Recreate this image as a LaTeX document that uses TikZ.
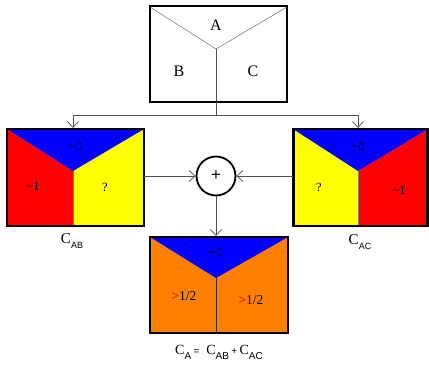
\documentclass[tikz,border=0pt]{standalone}
\usepackage{fontspec}
\setmainfont{Liberation Serif}
\setsansfont{Liberation Sans}
\usetikzlibrary{arrows.meta,calc}
\definecolor{cblue}{RGB}{0,0,255}
\definecolor{cred}{RGB}{255,0,0}
\definecolor{cyel}{RGB}{255,255,0}
\definecolor{corange}{RGB}{255,128,0}
\definecolor{cdred}{RGB}{190,0,0}
\definecolor{cline}{RGB}{80,80,80}
\tikzset{
  boxb/.style={draw=black,line width=2.8pt,inner sep=0pt},
  yline/.style={draw=gray,line width=0.6pt},
  conn/.style={draw=cline,line width=0.7pt},
  arr/.style={conn,-{Straight Barb[length=6pt,width=11pt,line width=0.7pt]}},
  lbl/.style={font=\fontsize{12.5}{13}\selectfont,inner sep=0pt},
  half/.style={font=\fontsize{13.5}{14}\selectfont,inner sep=0pt},
  big/.style={font=\fontsize{16}{17}\selectfont,inner sep=0pt},
}
\newcommand{\sub}[2][9]{\raisebox{-0.35em}{\sffamily\fontsize{#1}{10}\selectfont #2}}
\begin{document}
\begin{tikzpicture}[x=1pt,y=-1pt]
\useasboundingbox (0,0) rectangle (429,367);
% ---------- top box ----------
\coordinate (tY) at (216,49);
\draw[yline] (150,7) -- (tY) -- (287,7);
\draw[yline,draw=cline] (tY) -- (216,102);
\node[boxb,minimum width=137pt,minimum height=96pt] (top) at (218.5,54) {};
\node[big] (lA) at (216,25) {A};
\node[big] (lB) at (179,71) {B};
\node[big] (lC) at (253,71) {C};
% ---------- left box ----------
\coordinate (lY) at (73,171);
\fill[cred] (7,129) -- (lY) -- (73,226) -- (7,226) -- cycle;
\fill[cyel] (144,129) -- (lY) -- (73,226) -- (144,226) -- cycle;
\fill[cblue] (7,129) -- (lY) -- (144,129) -- cycle;
\draw[yline] (lY) -- (73,226);
\node[boxb,minimum width=137pt,minimum height=97pt] (left) at (75.5,177.5) {};
\node[lbl] (l0) at (76,146) {\char`\~0};
\node[lbl] (l1) at (33,186) {\char`\~1};
\node[lbl] (lq) at (105,187) {?};
\node[inner sep=0pt] (cab) at (72,241) {\fontsize{15}{16}\selectfont C\sub{AB}};
% ---------- right box ----------
\coordinate (rY) at (358,171);
\fill[cyel] (293,129) -- (rY) -- (358,226) -- (293,226) -- cycle;
\fill[cred] (428,129) -- (rY) -- (358,226) -- (428,226) -- cycle;
\fill[cblue] (293,129) -- (rY) -- (428,129) -- cycle;
\draw[yline] (rY) -- (358,226);
\node[boxb,minimum width=134pt,minimum height=97pt] (right) at (360.5,177.5) {};
\node[lbl] (r0) at (358,146) {\char`\~0};
\node[lbl] (rq) at (319,187) {?};
\node[lbl] (r1) at (399,190) {\char`\~1};
\node[inner sep=0pt] (cac) at (360,242) {\fontsize{15}{16}\selectfont C\sub{AC}};
% ---------- bottom box ----------
\coordinate (bY) at (216,278);
\fill[corange] (150,237) rectangle (288,333);
\fill[cblue] (150,237) -- (bY) -- (288,237) -- cycle;
\draw[draw=black!80,line width=0.6pt] (bY) -- (216,333);
\node[boxb,minimum width=138pt,minimum height=96pt] (bot) at (219,285) {};
\node[lbl] (b0) at (216,252) {\char`\~0};
\node[half] (bl) at (184,296) {\textcolor{cdred}{>}1/2};
\node[half] (br) at (251,300) {\textcolor{cdred}{>}1/2};
\node[inner sep=0pt] (form) at (219,352) {\fontsize{14}{15}\selectfont C\sub[10]{A}\,{\sffamily\fontsize{10}{10}\selectfont =}\ \ C\sub[10]{AB}\,{\sffamily\fontsize{10}{10}\selectfont +}\,C\sub[10]{AC}};
% ---------- sum node ----------
\node[circle,draw=black,line width=1.8pt,minimum size=39pt,inner sep=0pt,font=\sffamily\fontsize{17}{17}\selectfont] (sum) at (216,176) {+};
% ---------- connectors ----------
\coordinate (split) at (216,115);
\draw[conn] (216,102) -- (split);
\draw[arr] (split) -| (73,128);
\draw[arr] (split) -| (358,128);
\draw[arr] (144,176) -- (sum.west);
\draw[arr] (293,176) -- (sum.east);
\draw[arr] (sum.south) -- (216,236);
\end{tikzpicture}
\end{document}
